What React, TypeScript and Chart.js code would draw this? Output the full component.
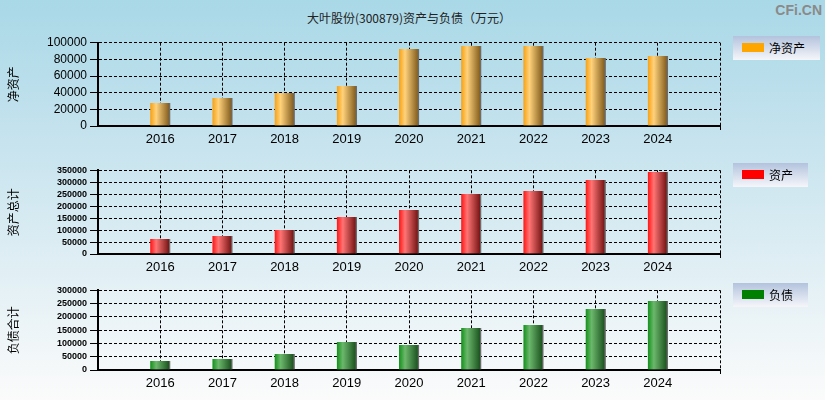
import React, { useEffect, useRef } from 'react';
import { Chart, registerables } from 'chart.js';

Chart.register(...registerables);

// ---- data ----
const years = ['2016', '2017', '2018', '2019', '2020', '2021', '2022', '2023', '2024'];
const netAssets = [27600, 33600, 39600, 48000, 92400, 96000, 96000, 81600, 84000];
const totalAssets = [62750, 75300, 100400, 154800, 184100, 251000, 263600, 309600, 343000];
const totalLiabilities = [33900, 41400, 60200, 105400, 94100, 158100, 169400, 229700, 259800];

const chartTitle = '大叶股份(300879)资产与负债（万元）';
const axisTitles = ['净资产', '资产总计', '负债合计'];
const legendLabels = ['净资产', '资产', '负债'];
const yMaxes = [100000, 350000, 300000];
const ySteps = [20000, 50000, 50000];

// ---- styles ----
const legendColors = ['#ffa500', '#ff0000', '#008000'];
const barStops: [number, string][][] = [
  [[0, '#f7a010'], [0.3, '#ffd27c'], [1, '#7a5416']],
  [[0, '#ff1414'], [0.3, '#ff7474'], [1, '#6a0c0c']],
  [[0, '#12901a'], [0.3, '#6cb86c'], [1, '#144a18']],
];

const panels = [
  { top: 28, height: 122, padTop: 14.7, padBottom: 4, tickFont: 12, tickWeight: 'normal' },
  { top: 155, height: 125, padTop: 15.3, padBottom: 6, tickFont: 9, tickWeight: 'bold' },
  { top: 280, height: 115, padTop: 10.3, padBottom: 5, tickFont: 9, tickWeight: 'bold' },
];
const legendBoxes = [
  { top: 36, width: 87 },
  { top: 163, width: 75 },
  { top: 283, width: 75 },
];

const seriesValues = [netAssets, totalAssets, totalLiabilities];

function gradientFor(stops: [number, string][]) {
  return (ctx: any) => {
    const chart = ctx.chart;
    const xs = chart.scales && chart.scales.x;
    if (!xs || ctx.dataIndex == null || !chart.chartArea) return stops[1][1];
    const x = xs.getPixelForValue(ctx.dataIndex);
    const g = chart.ctx.createLinearGradient(x - 10, 0, x + 10, 0);
    stops.forEach(([o, c]) => g.addColorStop(o, c));
    return g;
  };
}

function makeChart(canvas: HTMLCanvasElement, i: number) {
  const p = panels[i];
  const labels = ['', ...years, ''];
  const lastIndex = labels.length - 1;
  return new Chart(canvas, {
    type: 'bar',
    data: {
      labels,
      datasets: [
        {
          label: legendLabels[i],
          data: [null, ...seriesValues[i], null] as any,
          backgroundColor: gradientFor(barStops[i]) as any,
          borderColor: '#6c6c6c',
          borderWidth: { top: 0, left: 0, bottom: 0, right: 1.5 } as any,
          borderSkipped: false as any,
          barThickness: 20,
        },
      ],
    },
    options: {
      animation: false,
      responsive: false,
      devicePixelRatio: 1,
      layout: { padding: { left: 0, right: 105, top: p.padTop, bottom: p.padBottom } },
      plugins: { legend: { display: false }, tooltip: { enabled: false }, title: { display: false } },
      scales: {
        x: {
          type: 'category',
          offset: false,
          grid: {
            offset: false,
            color: '#000',
            lineWidth: 1,
            drawTicks: true,
            tickLength: 4,
            tickBorderDash: [],
            tickColor: (c: any) => (c.index === lastIndex ? '#000' : 'rgba(0,0,0,0)'),
          } as any,
          border: { display: true, color: '#000', width: 2, dash: [3, 2] },
          ticks: {
            autoSkip: false,
            maxRotation: 0,
            minRotation: 0,
            padding: 2,
            color: '#000',
            font: { family: '"Liberation Sans", Arial, sans-serif', size: 13 },
          },
          afterFit: (s: any) => {
            s.height = 20;
          },
        },
        y: {
          min: 0,
          max: yMaxes[i],
          ticks: {
            stepSize: ySteps[i],
            autoSkip: false,
            padding: 3,
            color: '#000',
            font: { family: '"Liberation Sans", Arial, sans-serif', size: p.tickFont, weight: p.tickWeight as any },
            callback: (v: any) => String(v),
          },
          grid: {
            color: '#000',
            lineWidth: 1,
            drawTicks: true,
            tickLength: 8,
            tickBorderDash: [],
            tickColor: '#000',
          } as any,
          border: { display: true, color: '#000', width: 2, dash: [3, 2] },
          title: {
            display: true,
            text: axisTitles[i],
            color: '#000',
            font: { family: '"Noto Sans CJK SC", sans-serif', size: 12 },
            padding: { top: 6, bottom: 0 },
          },
          afterFit: (s: any) => {
            s.width = 98;
          },
        },
      },
    },
  });
}

export default function App() {
  const refs = [useRef<HTMLCanvasElement>(null), useRef<HTMLCanvasElement>(null), useRef<HTMLCanvasElement>(null)];

  useEffect(() => {
    const charts = refs.map((r, i) => (r.current ? makeChart(r.current, i) : null));
    return () => {
      charts.forEach((c) => c && c.destroy());
    };
  }, []);

  return (
    <div
      style={{
        position: 'fixed',
        left: 0,
        top: 0,
        width: 825,
        height: 400,
        overflow: 'hidden',
        background: 'linear-gradient(to bottom, #a9d8e7 0%, #c6e3ee 35%, #dcedf3 62%, #fbfbfb 100%)',
      }}
    >
      <div
        style={{
          position: 'absolute',
          left: 0,
          top: 10,
          width: 818,
          textAlign: 'center',
          fontFamily: '"Noto Sans CJK SC", sans-serif',
          fontSize: 12,
          lineHeight: '16px',
          color: '#222',
        }}
      >
        {chartTitle}
      </div>
      <div
        style={{
          position: 'absolute',
          right: 3,
          top: 1,
          fontFamily: '"Liberation Sans", Arial, sans-serif',
          fontWeight: 'bold',
          fontSize: 14,
          lineHeight: '18px',
          color: '#8a8a8a',
        }}
      >
        CFi.CN
      </div>
      {panels.map((p, i) => (
        <canvas
          key={'c' + i}
          ref={refs[i]}
          width={825}
          height={p.height}
          style={{ position: 'absolute', left: 0, top: p.top, width: 825, height: p.height }}
        />
      ))}
      {legendBoxes.map((b, i) => (
        <div
          key={'l' + i}
          style={{
            position: 'absolute',
            left: 733,
            top: b.top,
            width: b.width,
            height: 24,
            background: 'linear-gradient(to bottom, #b3c3dd 0%, #f5f6fa 100%)',
          }}
        >
          <div
            style={{
              position: 'absolute',
              left: 9,
              top: 7,
              width: 22,
              height: 9,
              background: legendColors[i],
            }}
          />
          <div
            style={{
              position: 'absolute',
              left: 36,
              top: 3,
              fontFamily: '"Noto Sans CJK SC", sans-serif',
              fontSize: 12,
              lineHeight: '18px',
              color: '#000',
              whiteSpace: 'nowrap',
            }}
          >
            {legendLabels[i]}
          </div>
        </div>
      ))}
    </div>
  );
}
